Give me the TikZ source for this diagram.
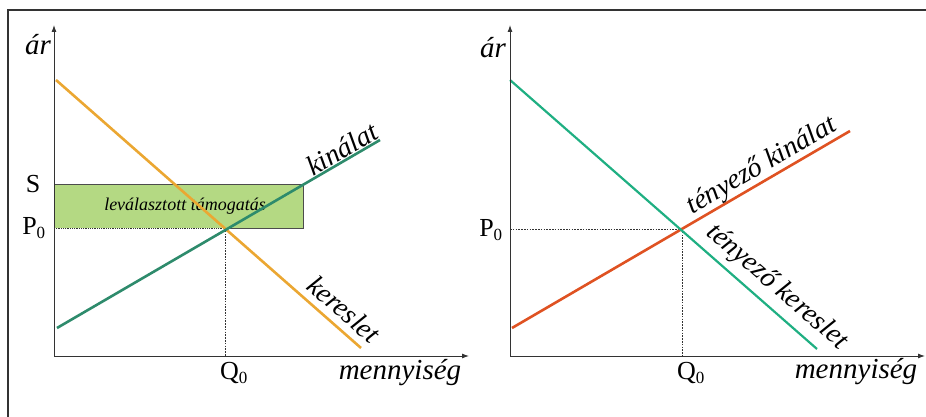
\documentclass[tikz,border=0pt]{standalone}
\usepackage{fontspec}
\setmainfont{Liberation Serif}[ItalicFont={Liberation Serif Italic}]
\usepackage{tikz}
\usetikzlibrary{arrows.meta,positioning,calc}
\definecolor{dorange}{HTML}{EBA732}
\definecolor{steal}{HTML}{2E8B6C}
\definecolor{fgreen}{HTML}{1FAF82}
\definecolor{fred}{HTML}{DF5222}
\definecolor{subsidy}{HTML}{B4D983}
\definecolor{framegray}{HTML}{333333}
\tikzset{
  axis/.style={-{Latex[length=7pt,width=5pt]},line width=0.9pt,draw=black!80},
  curve/.style={line width=2.6pt,draw=#1},
  curve/.default={dorange},
  guide/.style={line width=0.6pt,draw=black!80,dash pattern=on 1.6pt off 1.2pt},
  axlabel/.style={font=\fontsize{29}{31}\selectfont\itshape,inner sep=0pt},
  ticklabel/.style={font=\fontsize{26}{28}\selectfont,inner sep=0pt},
  curvelabel/.style={font=\fontsize{28}{30}\selectfont\itshape,inner sep=0pt},
  boxlabel/.style={font=\fontsize{18}{20}\selectfont\itshape,inner sep=0pt},
}
\newcommand{\subz}[1]{#1\textsubscript{\fontsize{17}{17}\selectfont 0}}
\begin{document}
\begin{tikzpicture}[x=1pt,y=1pt]
  \useasboundingbox (0,0) rectangle (926,417);
  \draw[line width=2.6pt,draw=framegray] (8,-2) -- (8,407) -- (928,407);

  \coordinate (o1) at (54,61);
  \coordinate (ytop1) at (54,392);
  \coordinate (xend1) at (469,61);
  \coordinate (d1a) at (56,337);
  \coordinate (d1b) at (361,69);
  \coordinate (s1a) at (57,89);
  \coordinate (s1b) at (380,277);
  \coordinate (e1) at (225,189);
  \coordinate (p1) at (54,189);
  \coordinate (q1) at (225,61);
  \coordinate (sc1) at (54,233);
  \coordinate (sc2) at (303,233);

  \fill[subsidy] (p1) rectangle (sc2);
  \draw[line width=0.8pt,draw=black!70] (sc1) -- (sc2) -- (303,189) -- (e1);
  \node[boxlabel] (subsidytxt) at (185,211) {leválasztott támogatás};
  \draw[guide,dash pattern=on 1pt off 0.8pt,line width=0.9pt] (p1) -- (e1);
  \draw[guide] (e1) -- (q1);
  \draw[curve=dorange] (d1a) -- (d1b);
  \draw[curve=steal] (s1a) -- (s1b);
  \draw[axis] (o1) -- (ytop1);
  \draw[axis] (o1) -- (xend1);

  \node[axlabel] (ar1) at (38,372) {ár};
  \node[ticklabel] (slab) at (33,233) {S};
  \node[ticklabel] (p0a) at (34,189) {\subz{P}};
  \node[ticklabel] (q0a) at (234,44) {\subz{Q}};
  \node[axlabel] (qty1) at (400,44) {mennyiség};
  \node[curvelabel,rotate=30] (supply1) at (342,268) {kinálat};
  \node[curvelabel,rotate=-41] (demand1) at (344,108) {kereslet};

  \coordinate (o2) at (510,61);
  \coordinate (ytop2) at (510,392);
  \coordinate (xend2) at (925,61);
  \coordinate (d2a) at (510,337);
  \coordinate (d2b) at (817,68);
  \coordinate (s2a) at (512,89);
  \coordinate (s2b) at (850,286);
  \coordinate (e2) at (682,188);
  \coordinate (p2) at (510,188);
  \coordinate (q2) at (682,61);

  \draw[guide] (p2) -- (e2);
  \draw[guide] (e2) -- (q2);
  \draw[curve=fred] (s2a) -- (s2b);
  \draw[curve=fgreen,line width=2.2pt] (d2a) -- (d2b);
  \draw[axis] (o2) -- (ytop2);
  \draw[axis] (o2) -- (xend2);

  \node[axlabel] (ar2) at (493,369) {ár};
  \node[ticklabel] (p0b) at (491,187) {\subz{P}};
  \node[ticklabel] (q0b) at (691,44) {\subz{Q}};
  \node[axlabel] (qty2) at (856,45) {mennyiség};
  \node[curvelabel,rotate=30] (supply2) at (762,251) {tényező kinálat};
  \node[curvelabel,rotate=-41] (demand2) at (777,130) {tényező kereslet};
\end{tikzpicture}
\end{document}
